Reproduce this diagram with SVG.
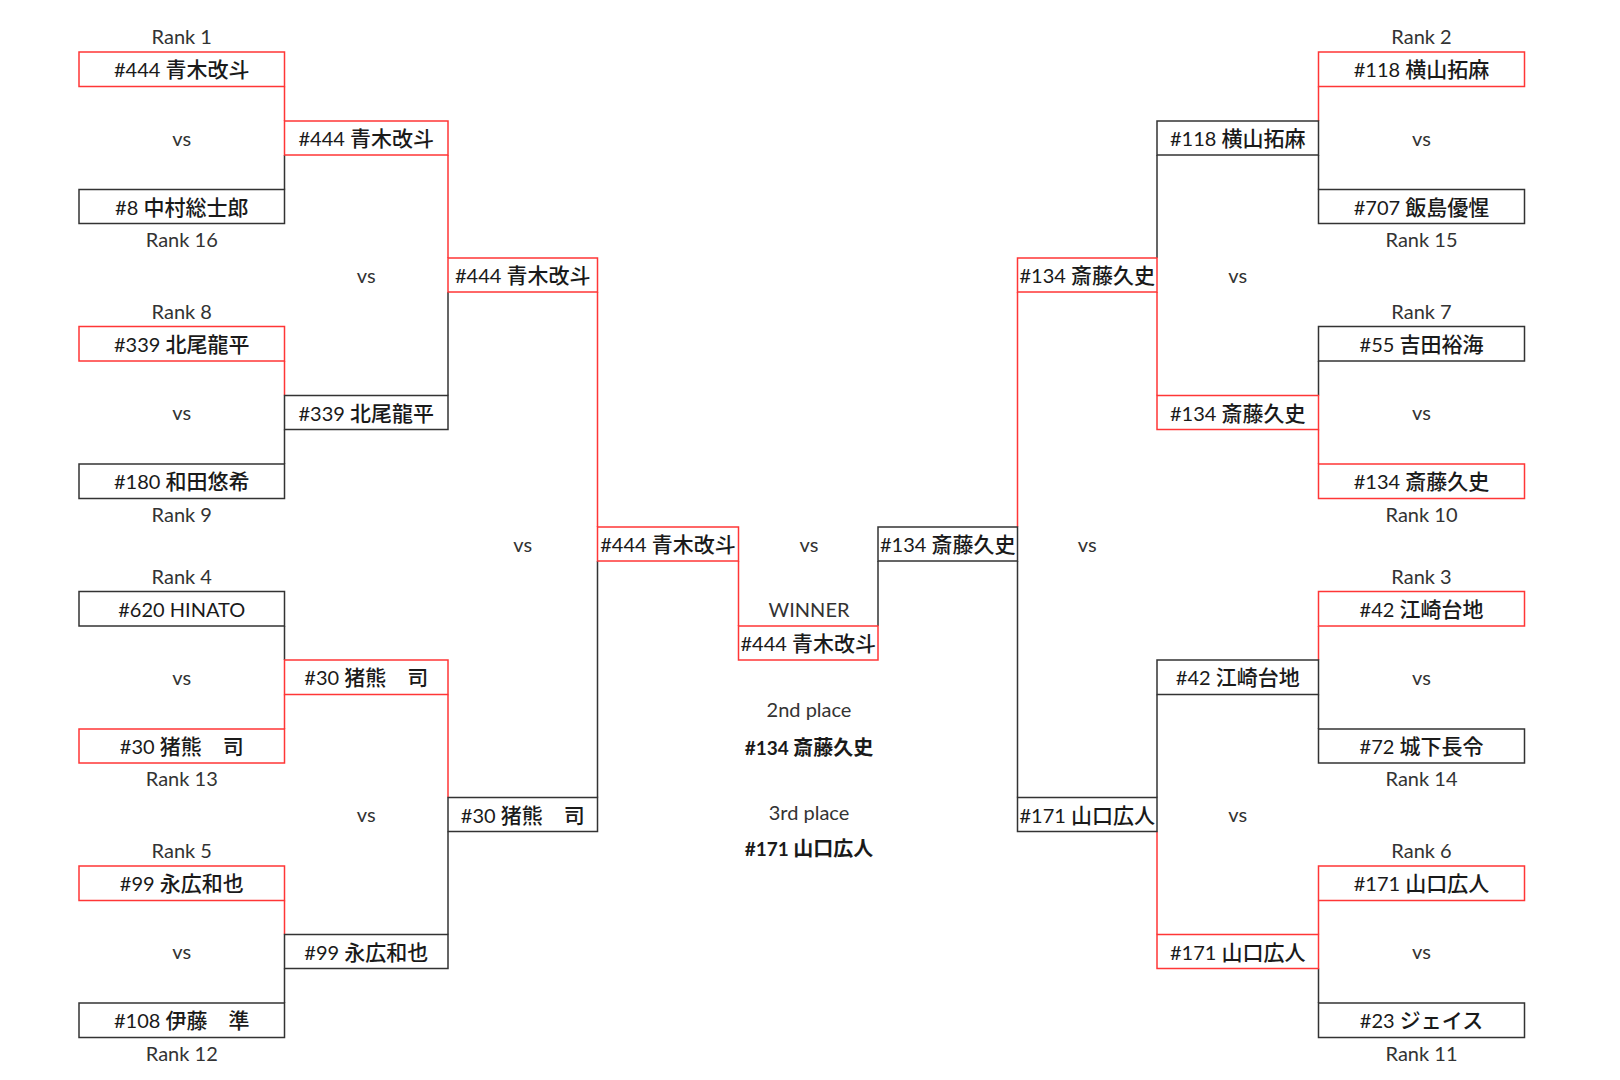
<svg xmlns="http://www.w3.org/2000/svg" width="1620" height="1080" viewBox="0 0 1620 1080">
<style>
.bk{fill:none;stroke:#333;stroke-width:1.5}
.rd{fill:none;stroke:#ff3636;stroke-width:1.5}
text{font-family:Lato,"Noto Sans CJK JP",sans-serif;font-size:20px;fill:#1a1a1a;text-anchor:middle}
.j{font-family:"Noto Sans CJK JP",sans-serif;font-size:21px;font-weight:500}
.l{fill:#333}
.b{font-weight:bold;font-size:19px}
.b .j{font-size:20px;font-weight:700}
</style>
<rect width="1620" height="1080" fill="#fff"/>
<g id="connectors">
<path class="rd" d="M284.5 86.5V121M284.5 361V395.5M284.5 694.5V729M284.5 900.5V934.5M448 155V258M448 694.5V797.5M597.5 292V527M738.5 561V626M1017.5 292V527M1157 292V395.5M1157 831.5V934.5M1318.5 86.5V121M1318.5 429.5V464M1318.5 626V660M1318.5 900.5V934.5"/>
<path class="bk" d="M284.5 155V189.5M284.5 429.5V464M284.5 626V660M284.5 968.5V1003M448 292V395.5M448 831.5V934.5M597.5 561V797.5M878 561V626M1017.5 561V797.5M1157 155V258M1157 694.5V797.5M1318.5 155V189.5M1318.5 361V395.5M1318.5 694.5V729M1318.5 968.5V1003"/>
</g>
<g id="A1"><rect class="rd" x="79" y="52" width="205.5" height="34.5"/><text x="181.75" y="77.25">#444 <tspan class="j">青木改斗</tspan></text></g>
<g id="A2"><rect class="bk" x="79" y="189.5" width="205.5" height="34"/><text x="181.75" y="214.5">#8 <tspan class="j">中村総士郎</tspan></text></g>
<g id="A3"><rect class="rd" x="79" y="326.5" width="205.5" height="34.5"/><text x="181.75" y="351.75">#339 <tspan class="j">北尾龍平</tspan></text></g>
<g id="A4"><rect class="bk" x="79" y="464" width="205.5" height="34.5"/><text x="181.75" y="489.25">#180 <tspan class="j">和田悠希</tspan></text></g>
<g id="A5"><rect class="bk" x="79" y="591.5" width="205.5" height="34.5"/><text x="181.75" y="616.75">#620 HINATO</text></g>
<g id="A6"><rect class="rd" x="79" y="729" width="205.5" height="34"/><text x="181.75" y="754">#30 <tspan class="j">猪熊　司</tspan></text></g>
<g id="A7"><rect class="rd" x="79" y="866" width="205.5" height="34.5"/><text x="181.75" y="891.25">#99 <tspan class="j">永広和也</tspan></text></g>
<g id="A8"><rect class="bk" x="79" y="1003" width="205.5" height="34.5"/><text x="181.75" y="1028.25">#108 <tspan class="j">伊藤　準</tspan></text></g>
<g id="B1"><rect class="rd" x="284.5" y="121" width="163.5" height="34"/><text x="366.25" y="146">#444 <tspan class="j">青木改斗</tspan></text></g>
<g id="B2"><rect class="bk" x="284.5" y="395.5" width="163.5" height="34"/><text x="366.25" y="420.5">#339 <tspan class="j">北尾龍平</tspan></text></g>
<g id="B3"><rect class="rd" x="284.5" y="660" width="163.5" height="34.5"/><text x="366.25" y="685.25">#30 <tspan class="j">猪熊　司</tspan></text></g>
<g id="B4"><rect class="bk" x="284.5" y="934.5" width="163.5" height="34"/><text x="366.25" y="959.5">#99 <tspan class="j">永広和也</tspan></text></g>
<g id="C1"><rect class="rd" x="448" y="258" width="149.5" height="34"/><text x="522.75" y="283">#444 <tspan class="j">青木改斗</tspan></text></g>
<g id="C2"><rect class="bk" x="448" y="797.5" width="149.5" height="34"/><text x="522.75" y="822.5">#30 <tspan class="j">猪熊　司</tspan></text></g>
<g id="D1"><rect class="rd" x="597.5" y="527" width="141" height="34"/><text x="668" y="552">#444 <tspan class="j">青木改斗</tspan></text></g>
<g id="W"><rect class="rd" x="738.5" y="626" width="139.5" height="34"/><text x="808.25" y="651">#444 <tspan class="j">青木改斗</tspan></text></g>
<g id="E1"><rect class="bk" x="878" y="527" width="139.5" height="34"/><text x="947.75" y="552">#134 <tspan class="j">斎藤久史</tspan></text></g>
<g id="F1"><rect class="rd" x="1017.5" y="258" width="139.5" height="34"/><text x="1087.25" y="283">#134 <tspan class="j">斎藤久史</tspan></text></g>
<g id="F2"><rect class="bk" x="1017.5" y="797.5" width="139.5" height="34"/><text x="1087.25" y="822.5">#171 <tspan class="j">山口広人</tspan></text></g>
<g id="G1"><rect class="bk" x="1157" y="121" width="161.5" height="34"/><text x="1237.75" y="146">#118 <tspan class="j">横山拓麻</tspan></text></g>
<g id="G2"><rect class="rd" x="1157" y="395.5" width="161.5" height="34"/><text x="1237.75" y="420.5">#134 <tspan class="j">斎藤久史</tspan></text></g>
<g id="G3"><rect class="bk" x="1157" y="660" width="161.5" height="34.5"/><text x="1237.75" y="685.25">#42 <tspan class="j">江崎台地</tspan></text></g>
<g id="G4"><rect class="rd" x="1157" y="934.5" width="161.5" height="34"/><text x="1237.75" y="959.5">#171 <tspan class="j">山口広人</tspan></text></g>
<g id="H1"><rect class="rd" x="1318.5" y="52" width="206" height="34.5"/><text x="1421.5" y="77.25">#118 <tspan class="j">横山拓麻</tspan></text></g>
<g id="H2"><rect class="bk" x="1318.5" y="189.5" width="206" height="34"/><text x="1421.5" y="214.5">#707 <tspan class="j">飯島優惺</tspan></text></g>
<g id="H3"><rect class="bk" x="1318.5" y="326.5" width="206" height="34.5"/><text x="1421.5" y="351.75">#55 <tspan class="j">吉田裕海</tspan></text></g>
<g id="H4"><rect class="rd" x="1318.5" y="464" width="206" height="34.5"/><text x="1421.5" y="489.25">#134 <tspan class="j">斎藤久史</tspan></text></g>
<g id="H5"><rect class="rd" x="1318.5" y="591.5" width="206" height="34.5"/><text x="1421.5" y="616.75">#42 <tspan class="j">江崎台地</tspan></text></g>
<g id="H6"><rect class="bk" x="1318.5" y="729" width="206" height="34"/><text x="1421.5" y="754">#72 <tspan class="j">城下長令</tspan></text></g>
<g id="H7"><rect class="rd" x="1318.5" y="866" width="206" height="34.5"/><text x="1421.5" y="891.25">#171 <tspan class="j">山口広人</tspan></text></g>
<g id="H8"><rect class="bk" x="1318.5" y="1003" width="206" height="34.5"/><text x="1421.5" y="1028.25">#23 <tspan class="j">ジェイス</tspan></text></g>
<g id="labels">
<text class="l" x="181.75" y="44">Rank 1</text>
<text class="l" x="181.75" y="246.5">Rank 16</text>
<text class="l" x="181.75" y="318.5">Rank 8</text>
<text class="l" x="181.75" y="521.5">Rank 9</text>
<text class="l" x="181.75" y="583.5">Rank 4</text>
<text class="l" x="181.75" y="786">Rank 13</text>
<text class="l" x="181.75" y="858">Rank 5</text>
<text class="l" x="181.75" y="1060.5">Rank 12</text>
<text class="l" x="1421.5" y="44">Rank 2</text>
<text class="l" x="1421.5" y="246.5">Rank 15</text>
<text class="l" x="1421.5" y="318.5">Rank 7</text>
<text class="l" x="1421.5" y="521.5">Rank 10</text>
<text class="l" x="1421.5" y="583.5">Rank 3</text>
<text class="l" x="1421.5" y="786">Rank 14</text>
<text class="l" x="1421.5" y="858">Rank 6</text>
<text class="l" x="1421.5" y="1060.5">Rank 11</text>
<text class="l" x="181.75" y="145.5">vs</text>
<text class="l" x="181.75" y="420">vs</text>
<text class="l" x="181.75" y="684.75">vs</text>
<text class="l" x="181.75" y="959">vs</text>
<text class="l" x="366.25" y="282.5">vs</text>
<text class="l" x="366.25" y="822">vs</text>
<text class="l" x="522.75" y="551.5">vs</text>
<text class="l" x="809" y="551.5">vs</text>
<text class="l" x="1087.25" y="551.5">vs</text>
<text class="l" x="1237.75" y="282.5">vs</text>
<text class="l" x="1237.75" y="822">vs</text>
<text class="l" x="1421.5" y="145.5">vs</text>
<text class="l" x="1421.5" y="420">vs</text>
<text class="l" x="1421.5" y="684.75">vs</text>
<text class="l" x="1421.5" y="959">vs</text>
<text class="l" x="809" y="616.5">WINNER</text>
<text class="l" x="809" y="717">2nd place</text>
<text class="b" x="809" y="755">#134 <tspan class="j">斎藤久史</tspan></text>
<text class="l" x="809" y="819.5">3rd place</text>
<text class="b" x="809" y="856">#171 <tspan class="j">山口広人</tspan></text>
</g>
</svg>
